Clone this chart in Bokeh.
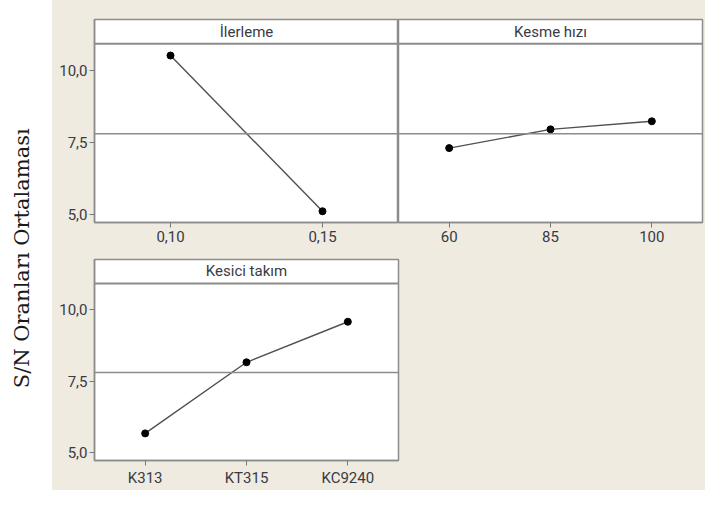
import math
from bokeh.plotting import figure
from bokeh.models import Range1d, FixedTicker, Span, Label, FactorRange, CustomJSTickFormatter
from bokeh.layouts import row, column
from bokeh.embed import file_html
from bokeh.resources import INLINE

# ---- data ----
feed_levels = ["0,10", "0,15"]
feed_sn = [10.51, 5.11]

speed_levels = ["60", "85", "100"]
speed_sn = [7.30, 7.95, 8.23]

tool_levels = ["K313", "KT315", "KC9240"]
tool_sn = [5.67, 8.16, 9.58]

panel_titles = ["İlerleme", "Kesme hızı", "Kesici takım"]
grand_mean = 7.80
y_ticks = [5.0, 7.5, 10.0]
y_label = "S/N Oranları Ortalaması"

# ---- styling ----
BEIGE = "#EFEBE1"
GRID_GRAY = "#8c8c8c"
TEXT = "#3a3a44"
FONT = "Roboto"
Y_LO, Y_HI = 4.72, 11.76   # data area + title strip
STRIP_Y = 10.92


def panel(levels, vals, title, width, height, mbl, mbr, mbt, mbb, show_y):
    p = figure(x_range=FactorRange(*levels), y_range=Range1d(Y_LO, Y_HI),
               width=width, height=height, output_backend="svg",
               toolbar_location=None,
               y_axis_location="left" if show_y else None,
               min_border_left=mbl, min_border_right=mbr,
               min_border_top=mbt, min_border_bottom=mbb)
    p.grid.visible = False
    p.background_fill_color = "white"
    p.border_fill_color = BEIGE
    p.outline_line_color = GRID_GRAY
    p.outline_line_width = 1.5

    # title strip
    p.add_layout(Span(location=STRIP_Y, dimension="width",
                      line_color=GRID_GRAY, line_width=2))
    p.add_layout(Label(x=len(levels) / 2, y=(STRIP_Y + Y_HI) / 2, text=title,
                       text_align="center", text_baseline="middle",
                       text_font=FONT, text_font_size="15px", text_color=TEXT))
    # grand mean reference line
    p.add_layout(Span(location=grand_mean, dimension="width",
                      line_color=GRID_GRAY, line_width=1.6))

    p.line(x=levels, y=vals, line_color="#505050", line_width=1.4)
    p.scatter(x=levels, y=vals, size=7, color="black")

    for ax in p.axis:
        ax.axis_line_color = GRID_GRAY
        ax.axis_line_width = 1.5
        ax.major_tick_line_color = "#777777"
        ax.major_tick_in = 0
        ax.major_tick_out = 5
        ax.minor_tick_line_color = None
        ax.major_label_text_font = FONT
        ax.major_label_text_font_size = "15px"
        ax.major_label_text_color = TEXT
    p.xaxis.major_label_standoff = 3
    if show_y:
        p.yaxis.ticker = FixedTicker(ticks=y_ticks)
        p.yaxis.formatter = CustomJSTickFormatter(
            code="return tick.toFixed(1).replace('.', ',');")
        p.yaxis.major_label_standoff = 2
    return p


f1 = panel(feed_levels, feed_sn, panel_titles[0], 346, 250, 42, 0, 19, 28, True)
f2 = panel(speed_levels, speed_sn, panel_titles[1], 307, 250, 0, 3, 19, 28, False)
f3 = panel(tool_levels, tool_sn, panel_titles[2], 653, 240, 42, 307, 9, 30, True)

lab = figure(width=52, height=490, x_range=Range1d(0, 1), y_range=Range1d(0, 1),
             x_axis_location=None, y_axis_location=None, min_border=0,
             output_backend="svg", toolbar_location=None)
lab.outline_line_color = None
lab.background_fill_color = "white"
lab.border_fill_color = "white"
lab.grid.visible = False
lab.add_layout(Label(x=0.413, y=0.474, text=y_label, angle=math.pi / 2,
                     text_align="center", text_baseline="middle",
                     text_font="DejaVu Serif", text_font_size="21px",
                     text_color="#1a1a1a"))

top_row = row(f1, f2, styles={"background-color": BEIGE})
right_col = column(top_row, f3, styles={"background-color": BEIGE})
layout = row(lab, right_col)

open("out.html", "w").write(file_html(layout, INLINE))
